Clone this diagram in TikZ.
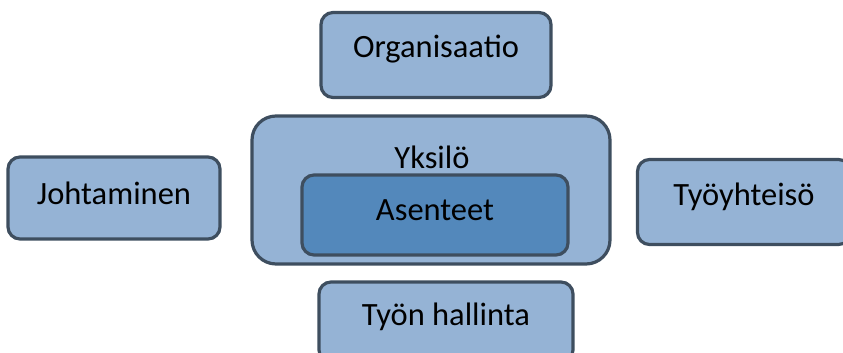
\documentclass[tikz,border=0pt]{standalone}
\usepackage{fontspec}
\setmainfont{Carlito}
\definecolor{boxfill}{RGB}{149,179,213}
\definecolor{innerfill}{RGB}{83,136,187}
\definecolor{boxline}{RGB}{62,78,95}
\begin{document}
\begin{tikzpicture}[x=1pt,y=-1pt,
  box/.style={draw=boxline, fill=boxfill, line width=3.2pt, rounded corners=12pt},
  txt/.style={font=\fontsize{32.5}{36}\selectfont, inner sep=0pt}]
\useasboundingbox (0,0) rectangle (843,353);
\clip (0,0) rectangle (843,353);
\node[box, rounded corners=24pt, minimum width=358pt, minimum height=148pt] (yksilo) at (431,190) {};
\node[box, fill=innerfill, minimum width=266pt, minimum height=80pt] (asenteet) at (435,215) {};
\node[txt] (asenteetText) at (asenteet.center) [yshift=5pt] {Asenteet};
\node[txt] (yksiloText) at (432,157) {Yksilö};
\node[box, minimum width=230pt, minimum height=85pt] (org) at (436,55) {};
\node[txt] at (org.center) [yshift=6pt] {Organisaatio};
\node[box, minimum width=212pt, minimum height=82pt] (joht) at (114,198) {};
\node[txt] at (joht.center) [yshift=5pt] {Johtaminen};
\node[box, minimum width=213pt, minimum height=85pt] (tyo) at (744,202) {};
\node[txt] at (tyo.center) [yshift=5pt] {Työyhteisö};
\node[box, minimum width=254pt, minimum height=80pt] (hall) at (446,322) {};
\node[txt] at (hall.center) [yshift=5pt] {Työn hallinta};
\end{tikzpicture}
\end{document}
